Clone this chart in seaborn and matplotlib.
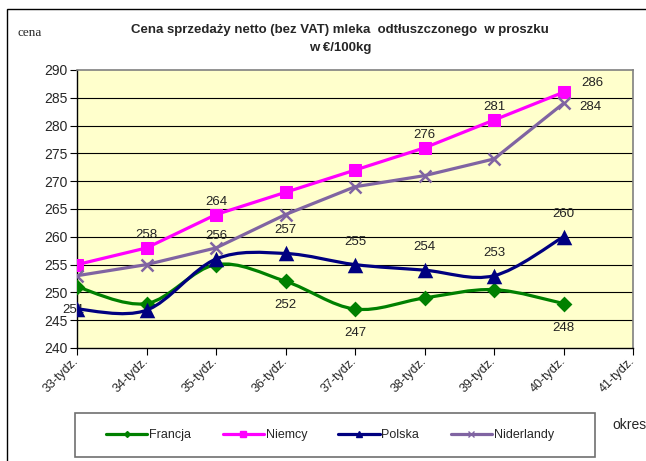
import matplotlib
matplotlib.use("Agg")
import matplotlib.pyplot as plt
import matplotlib.transforms as mtransforms
from matplotlib.path import Path
from matplotlib.patches import PathPatch, Rectangle
from matplotlib.lines import Line2D
import numpy as np
import seaborn as sns

# ------- DATA -------
weeks = ["33-tydz.", "34-tydz.", "35-tydz.", "36-tydz.", "37-tydz.",
         "38-tydz.", "39-tydz.", "40-tydz.", "41-tydz."]
francja = [251, 248, 255, 252, 247, 249, 250.5, 248]
niemcy = [255, 258, 264, 268, 272, 276, 281, 286]
polska = [247, 246.8, 256, 257, 255, 254, 253, 260]
niderlandy = [253, 255, 258, 264, 269, 271, 274, 284]

# indices of the points that carry a value label
francja_lbl = [0, 3, 4, 7]
niemcy_lbl = [1, 2, 5, 6, 7]
polska_lbl = [2, 3, 4, 5, 6, 7]
niderlandy_lbl = [7]

clr_fr = "#008000"
clr_de = "#FF00FF"
clr_pl = "#000080"
clr_nl = "#8064A2"

sns.set_style("white")
plt.rcParams["font.family"] = ["Liberation Sans", "DejaVu Sans"]

W, H = 646, 461
fig = plt.figure(figsize=(W / 100, H / 100), dpi=100)
ax = fig.add_axes([77 / W, 1 - 348 / H, (633 - 77) / W, (348 - 70) / H])
ax.set_facecolor("#FFFFCC")


def smooth_path(xs, ys):
    # Excel-like smoothed line (Catmull-Rom -> cubic bezier)
    pts = np.column_stack([xs, ys]).astype(float)
    verts = [pts[0]]
    codes = [Path.MOVETO]
    n = len(pts)
    for i in range(n - 1):
        p0 = pts[max(i - 1, 0)]
        p1 = pts[i]
        p2 = pts[i + 1]
        p3 = pts[min(i + 2, n - 1)]
        c1 = p1 + (p2 - p0) / 6.0
        c2 = p2 - (p3 - p1) / 6.0
        verts += [c1, c2, p2]
        codes += [Path.CURVE4] * 3
    return Path(verts, codes)


x_idx = np.arange(len(francja))

# Francja (smoothed)
ax.add_patch(PathPatch(smooth_path(x_idx, francja), fill=False, ec=clr_fr, lw=2.3, zorder=3))
sns.scatterplot(x=x_idx, y=francja, marker="D", s=65, color=clr_fr, edgecolor=clr_fr,
                linewidth=0, ax=ax, zorder=4)

# Niemcy
sns.lineplot(x=x_idx, y=niemcy, color=clr_de, lw=2.3, marker="s", markersize=9,
             markeredgecolor=clr_de, ax=ax, zorder=5)

# Polska (smoothed)
ax.add_patch(PathPatch(smooth_path(x_idx, polska), fill=False, ec=clr_pl, lw=2.3, zorder=6))
sns.scatterplot(x=x_idx, y=polska, marker="^", s=125, color=clr_pl, edgecolor=clr_pl,
                linewidth=0, ax=ax, zorder=7)

# Niderlandy
sns.lineplot(x=x_idx, y=niderlandy, color=clr_nl, lw=2.3, marker="x", markersize=9,
             markeredgewidth=1.8, markeredgecolor=clr_nl, ax=ax, zorder=8)


def add_labels(vals, idx, dx, dy, special=None):
    for i in idx:
        ox, oy = dx, dy
        if special and i in special:
            ox, oy = special[i]
        ax.annotate("%d" % round(vals[i]), (x_idx[i], vals[i]), xytext=(ox, oy),
                    textcoords="offset pixels", ha="center", va="center",
                    fontsize=9.5, color="#222222", zorder=3.5, annotation_clip=False)


add_labels(francja, francja_lbl, 0, -24, special={0: (-4, -23)})
add_labels(niemcy, niemcy_lbl, 0, 13, special={7: (29, 9)})
add_labels(polska, polska_lbl, 0, 23)
add_labels(niderlandy, niderlandy_lbl, 27, -4)

ax.set_xlim(0, len(weeks) - 1)
ax.set_ylim(240, 290)
ax.set_xticks(np.arange(len(weeks)))
ax.set_xticklabels(weeks, rotation=45, ha="right", va="center", rotation_mode="anchor",
                   fontsize=9)
shift = mtransforms.ScaledTranslation(4 / 100, -5 / 100, fig.dpi_scale_trans)
for lbl in ax.get_xticklabels():
    lbl.set_transform(lbl.get_transform() + shift)
ax.set_yticks(np.arange(240, 291, 5))
ax.tick_params(axis="y", labelsize=10, length=5, direction="out", color="black", pad=2,
               left=True)
ax.tick_params(axis="x", length=5, direction="out", color="black", pad=3, bottom=True)
ax.set_xlabel("")
ax.set_ylabel("")

for yv in np.arange(245, 290, 5):
    ax.axhline(yv, color="black", lw=0.8, zorder=1)

for side in ["top", "right"]:
    ax.spines[side].set_color("#808080")
    ax.spines[side].set_linewidth(1.2)
for side in ["left", "bottom"]:
    ax.spines[side].set_color("black")
    ax.spines[side].set_linewidth(1.0)

# Titles and axis captions
fig.text(340 / W, 1 - 30 / H, "Cena sprzedaży netto (bez VAT) mleka  odtłuszczonego  w proszku",
         ha="center", va="center", fontsize=9.5, fontweight="bold")
fig.text(340 / W, 1 - 48 / H, "w €/100kg", ha="center", va="center", fontsize=9.5,
         fontweight="bold")
fig.text(18 / W, 1 - 33 / H, "cena", ha="left", va="center", fontsize=9.5,
         family=["Liberation Serif", "DejaVu Serif"])
fig.text(612 / W, 1 - 425 / H, "okres", ha="left", va="center", fontsize=10)

# Legend
handles = [
    Line2D([], [], color=clr_fr, lw=2.3, marker="D", markersize=3),
    Line2D([], [], color=clr_de, lw=2.3, marker="s", markersize=4),
    Line2D([], [], color=clr_pl, lw=2.3, marker="^", markersize=4),
    Line2D([], [], color=clr_nl, lw=2.3, marker="x", markersize=4),
]
fig.add_artist(Rectangle((75 / W, 1 - 457 / H), 520 / W, 44 / H, transform=fig.transFigure,
                         fill=False, ec="#707070", lw=1.2))
fig.legend(handles, ["Francja", "Niemcy", "Polska", "Niderlandy"], loc="center",
           bbox_to_anchor=(330 / W, 1 - 435 / H), ncol=4, frameon=False, fontsize=9,
           handlelength=3.3, handletextpad=0.15, columnspacing=2.5)

# Outer chart border
fig.add_artist(Rectangle((7 / W, -0.1), 1.2, 1.1 - 9 / H, transform=fig.transFigure,
                         fill=False, ec="black", lw=1.0))

fig.savefig("out.png", dpi=100)
